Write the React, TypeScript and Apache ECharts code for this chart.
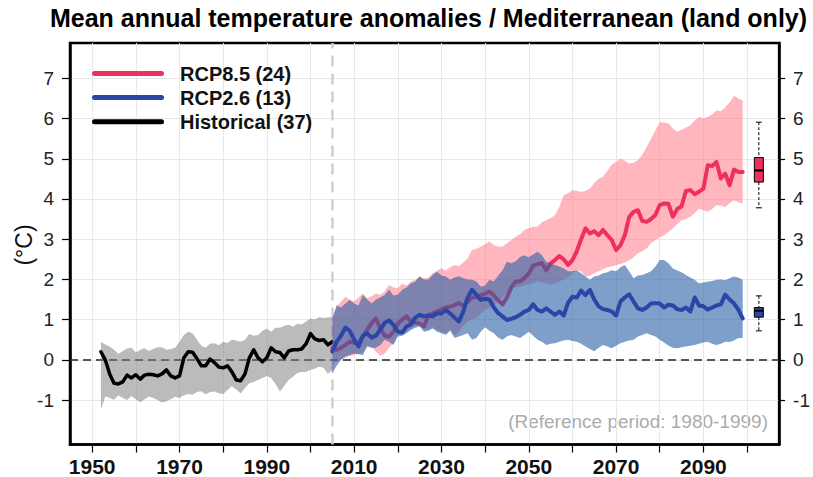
import React, { useEffect, useRef } from "react";
import * as echarts from "echarts";

const TITLE = "Mean annual temperature anomalies / Mediterranean (land only)";
const Y_NAME = "(°C)";
const NOTE = "(Reference period: 1980-1999)";

const HIST_START = 1952;
const RCP_START = 2005;
const REF_LINE_YEAR = 2005;

// Historical multi-model mean and range (1952-2005)
const histMean = [
  0.2, 0.0, -0.35, -0.58, -0.6, -0.55, -0.38, -0.45, -0.37, -0.48,
  -0.38, -0.36, -0.37, -0.4, -0.35, -0.25, -0.4, -0.45, -0.4, 0.05,
  0.2, 0.19, 0.03, -0.15, -0.15, 0.02, -0.07, -0.18, -0.2, -0.15,
  -0.3, -0.5, -0.52, -0.35, 0.05, 0.25, 0.05, -0.05, 0.05, 0.3,
  0.2, 0.18, 0.05, 0.22, 0.25, 0.25, 0.27, 0.4, 0.65, 0.52,
  0.48, 0.5, 0.37, 0.45,
];
const histHi = [
  0.45, 0.38, 0.33, 0.25, 0.15, 0.22, 0.28, 0.3, 0.18, 0.25,
  0.29, 0.22, 0.27, 0.31, 0.31, 0.25, 0.27, 0.3, 0.45, 0.62,
  0.7, 0.66, 0.5, 0.35, 0.3, 0.4, 0.41, 0.36, 0.45, 0.42,
  0.5, 0.48, 0.45, 0.5, 0.64, 0.6, 0.62, 0.72, 0.78, 0.7,
  0.8, 0.8, 0.85, 0.87, 0.82, 0.9, 0.88, 0.95, 1.03, 1.0,
  1.06, 1.04, 1.06, 1.06,
];
const histLo = [
  -1.24, -0.91, -0.95, -0.99, -0.88, -0.95, -1.0, -0.9, -0.98, -1.06,
  -0.98, -0.92, -0.95, -1.0, -1.06, -1.03, -0.98, -0.92, -0.95, -0.88,
  -0.85, -0.87, -0.8, -0.78, -0.86, -0.8, -0.79, -0.83, -0.85, -0.75,
  -0.66, -0.74, -0.84, -0.7, -0.58, -0.55, -0.5, -0.45, -0.4, -0.45,
  -0.6, -0.79, -0.65, -0.5, -0.42, -0.33, -0.3, -0.3, -0.25, -0.22,
  -0.17, -0.2, -0.35, -0.25,
];

// RCP8.5 (2005-2099)
const rcp85Mean = [
  0.29, 0.25, 0.3, 0.37, 0.45, 0.42, 0.42, 0.58, 0.75, 0.91,
  1.03, 0.78, 0.6, 0.58, 0.7, 0.9, 1.0, 1.08, 0.95, 0.93,
  0.9, 0.83, 1.1, 1.16, 1.2, 1.25, 1.3, 1.32, 1.36, 1.41,
  1.34, 1.45, 1.55, 1.56, 1.6, 1.64, 1.7, 1.6, 1.48, 1.38,
  1.55, 1.8, 1.95, 1.95, 2.03, 2.15, 2.34, 2.38, 2.4, 2.23,
  2.4, 2.48, 2.58, 2.5, 2.36, 2.48, 2.7, 3.0, 3.27, 3.14,
  3.2, 3.1, 3.23, 3.1, 2.98, 2.73, 2.85, 3.1, 3.55, 3.68,
  3.72, 3.45, 3.43, 3.5, 3.6, 3.85, 3.89, 3.88, 3.56, 3.75,
  3.82, 4.2, 4.22, 4.12, 4.18, 4.26, 4.84, 4.82, 4.92, 4.51,
  4.63, 4.34, 4.73, 4.67, 4.67,
];
const rcp85Hi = [
  1.0, 1.32, 1.45, 1.57, 1.5, 1.45, 1.55, 1.65, 1.53, 1.58,
  1.65, 1.62, 1.7, 1.86, 1.8, 1.78, 1.9, 1.85, 1.95, 1.99,
  2.07, 2.02, 2.05, 2.15, 2.22, 2.28, 2.22, 2.3, 2.36, 2.33,
  2.42, 2.52, 2.73, 2.76, 2.81, 2.88, 2.94, 2.85, 2.81, 2.82,
  2.9, 2.98, 3.06, 3.12, 3.23, 3.28, 3.31, 3.31, 3.42, 3.47,
  3.52, 3.6, 3.8, 4.09, 4.14, 4.22, 4.2, 4.18, 4.2, 4.26,
  4.4, 4.5, 4.55, 4.7, 4.85, 4.92, 5.0, 4.95, 4.88, 4.9,
  4.96, 5.1, 5.29, 5.5, 5.7, 5.91, 5.9, 5.88, 5.75, 5.67,
  5.72, 5.78, 5.83, 5.95, 6.04, 6.0, 6.04, 6.1, 6.2, 6.18,
  6.28, 6.4, 6.57, 6.5, 6.45,
];
const rcp85Lo = [
  -0.1, -0.05, 0.0, 0.05, 0.1, 0.12, 0.15, 0.18, 0.35, 0.32,
  0.2, 0.1, 0.15, 0.3, 0.42, 0.62, 0.65, 0.7, 0.78, 0.84,
  0.87, 0.75, 0.76, 0.82, 0.74, 0.7, 0.66, 0.76, 0.6, 0.7,
  0.85, 0.95, 1.0, 1.05, 1.15, 1.25, 1.3, 1.35, 1.45, 1.55,
  1.65, 1.78, 1.8, 1.82, 1.85, 1.88, 1.9, 1.95, 1.92, 1.9,
  1.88, 1.9, 1.95, 2.0, 2.06, 2.15, 2.23, 2.2, 2.07, 2.1,
  2.15, 2.2, 2.25, 2.3, 2.32, 2.35, 2.38, 2.42, 2.48, 2.55,
  2.65, 2.7, 2.77, 2.9, 2.98, 3.05, 3.1, 3.18, 3.27, 3.38,
  3.47, 3.5, 3.56, 3.65, 3.76, 3.72, 3.68, 3.75, 3.85, 3.83,
  3.8, 3.9, 3.97, 3.92, 3.89,
];

// RCP2.6 (2005-2099)
const rcp26Mean = [
  0.21, 0.45, 0.6, 0.8, 0.72, 0.5, 0.33, 0.6, 0.66, 0.55,
  0.6, 0.75, 0.92, 0.98, 0.87, 0.7, 0.68, 0.83, 0.88, 1.05,
  1.12, 1.08, 1.1, 1.08, 1.16, 1.15, 1.24, 1.15, 1.05, 0.95,
  1.2, 1.55, 1.74, 1.62, 1.49, 1.52, 1.5, 1.3, 1.16, 1.08,
  0.99, 1.02, 1.06, 1.12, 1.2, 1.24, 1.38, 1.24, 1.2, 1.28,
  1.2, 1.12, 1.2, 1.1, 1.42, 1.57, 1.55, 1.72, 1.61, 1.74,
  1.5, 1.33, 1.26, 1.24, 1.2, 1.1, 1.45, 1.55, 1.63, 1.45,
  1.28, 1.24, 1.3, 1.4, 1.41, 1.4, 1.3, 1.37, 1.35, 1.26,
  1.24, 1.3, 1.2, 1.55, 1.35, 1.33, 1.25, 1.3, 1.35, 1.38,
  1.62, 1.5, 1.4, 1.25, 1.03,
];
const rcp26Hi = [
  1.03, 1.36, 1.3, 1.4, 1.49, 1.4, 1.35, 1.61, 1.5, 1.4,
  1.5, 1.55, 1.61, 1.74, 1.6, 1.62, 1.74, 1.8, 1.9, 1.95,
  2.07, 2.0, 1.99, 2.11, 2.19, 2.1, 2.07, 1.99, 2.05, 2.08,
  2.03, 2.0, 1.99, 1.95, 1.82, 1.85, 1.99, 1.95, 2.1, 2.23,
  2.44, 2.4, 2.45, 2.56, 2.6, 2.55, 2.62, 2.69, 2.6, 2.44,
  2.4, 2.36, 2.32, 2.27, 2.2, 2.2, 2.23, 2.15, 2.07, 1.99,
  2.07, 2.1, 2.15, 2.18, 2.23, 2.2, 2.3, 2.36, 2.2, 2.03,
  2.1, 2.11, 2.15, 2.2, 2.32, 2.48, 2.48, 2.4, 2.27, 2.22,
  2.18, 2.11, 2.05, 1.99, 1.9, 1.92, 1.94, 1.96, 1.99, 2.0,
  1.98, 2.03, 2.07, 2.05, 1.99,
];
const rcp26Lo = [
  -0.33, -0.15, 0.0, 0.08, 0.12, 0.16, 0.14, 0.12, 0.33, 0.3,
  0.3, 0.37, 0.5, 0.45, 0.37, 0.58, 0.6, 0.66, 0.74, 0.8,
  0.83, 0.7, 0.72, 0.78, 0.7, 0.66, 0.62, 0.72, 0.54, 0.58,
  0.62, 0.66, 0.5, 0.54, 0.7, 0.81, 0.72, 0.66, 0.55, 0.5,
  0.58, 0.62, 0.58, 0.54, 0.62, 0.7, 0.6, 0.5, 0.45, 0.37,
  0.4, 0.41, 0.45, 0.48, 0.5, 0.47, 0.45, 0.4, 0.33, 0.27,
  0.21, 0.3, 0.37, 0.33, 0.29, 0.35, 0.41, 0.45, 0.48, 0.5,
  0.58, 0.62, 0.66, 0.62, 0.58, 0.5, 0.43, 0.35, 0.3, 0.29,
  0.31, 0.33, 0.35, 0.37, 0.4, 0.43, 0.45, 0.4, 0.37, 0.4,
  0.45, 0.44, 0.48, 0.54, 0.54,
];

// End-of-century box plots: [min, q1, median, q3, max]
const BOX_YEAR = 2102.7;
const rcp85Box = [3.78, 4.42, 4.71, 5.03, 5.91];
const rcp26Box = [0.72, 1.06, 1.22, 1.3, 1.59];

const xTicks = [1950, 1960, 1970, 1980, 1990, 2000, 2010, 2020, 2030, 2040, 2050, 2060, 2070, 2080, 2090, 2100];
const xLabels = [1950, 1970, 1990, 2010, 2030, 2050, 2070, 2090];
const yTicks = [-1, 0, 1, 2, 3, 4, 5, 6, 7];

const NAME85 = "RCP8.5 (24)";
const NAME26 = "RCP2.6 (13)";
const NAMEH = "Historical (37)";
const legendNames = [NAME85, NAME26, NAMEH];

const C85 = "#ee3060";
const C26 = "#2a46a6";
const CH = "#000000";
const FONT = "'Liberation Sans', Arial, sans-serif";
const CAPSULE = "path://M2.5,0 L69.5,0 A2.5,2.5 0 0 1 69.5,5 L2.5,5 A2.5,2.5 0 0 1 2.5,0 Z";

function years(start: number, n: number) {
  return Array.from({ length: n }, (_, i) => start + i);
}

function band(name: string, yrs: number[], lo: number[], hi: number[], fill: string, z: number) {
  return {
    name,
    type: "custom",
    z,
    silent: true,
    data: yrs.map((y, i) => [y, lo[i], hi[i]]),
    encode: { x: 0, y: [1, 2] },
    renderItem: (params: any, api: any) => {
      if (params.dataIndex !== 0) return null;
      const top = yrs.map((y, i) => api.coord([y, hi[i]]));
      const bot = yrs.map((y, i) => api.coord([y, lo[i]])).reverse();
      return {
        type: "polygon",
        shape: { points: top.concat(bot) },
        style: { fill, stroke: "none" },
      };
    },
  };
}

function meanLine(name: string, yrs: number[], vals: number[], color: string, width: number, z: number, extra: any = {}) {
  return {
    name,
    type: "line",
    z,
    silent: true,
    color,
    symbol: "none",
    showSymbol: false,
    data: yrs.map((y, i) => [y, vals[i]]),
    itemStyle: { color },
    lineStyle: { color, width, join: "round", cap: "round" },
    ...extra,
  };
}

export default function App() {
  const ref = useRef<HTMLDivElement>(null);

  useEffect(() => {
    if (!ref.current) return;
    const chart = echarts.init(ref.current, null, { renderer: "svg" });
    const hy = years(HIST_START, histMean.length);
    const ry = years(RCP_START, rcp85Mean.length);
    const boxColors = [C85, C26];

    const yCommon = {
      type: "value",
      min: -2.106,
      max: 7.879,
      minInterval: 1,
      maxInterval: 1,
      splitNumber: 10,
    };

    const option: any = {
      animation: false,
      grid: {
        left: 70,
        right: 30.3,
        top: 43,
        bottom: 32.5,
        show: true,
        borderColor: "#000",
        borderWidth: 2.5,
        backgroundColor: "transparent",
      },
      legend: {
        data: legendNames,
        orient: "vertical",
        left: 92,
        top: 63.5,
        padding: 0,
        itemWidth: 72,
        itemHeight: 5,
        itemGap: 4.1,
        icon: CAPSULE,
        selectedMode: false,
        textStyle: {
          fontSize: 20,
          fontWeight: "bold",
          fontFamily: FONT,
          color: "#111",
          padding: [0, 0, 0, 11],
        },
      },
      xAxis: {
        type: "value",
        min: 1944.92,
        max: 2107.34,
        minInterval: 10,
        maxInterval: 10,
        splitNumber: 16,
        axisLine: { show: true, onZero: false, lineStyle: { color: "#000", width: 2.5 } },
        axisTick: { show: true, length: 8, customValues: xTicks, lineStyle: { color: "#000", width: 1.2 } },
        axisLabel: {
          customValues: xLabels,
          formatter: (v: number) => String(v),
          fontSize: 21,
          fontWeight: "bold",
          fontFamily: FONT,
          color: "#111",
          margin: 11,
        },
        splitLine: { show: true, lineStyle: { color: "#e8e8e8", width: 1 } },
      },
      yAxis: [
        {
          ...yCommon,
          position: "left",
          axisLine: { show: true, onZero: false, lineStyle: { color: "#000", width: 2.5 } },
          axisTick: { show: true, length: 8, customValues: yTicks, lineStyle: { color: "#000", width: 1.2 } },
          axisLabel: {
            customValues: yTicks,
            formatter: (v: number) => String(v),
            fontSize: 19,
            fontFamily: FONT,
            color: "#222",
            margin: 16,
          },
          splitLine: { show: true, lineStyle: { color: "#e8e8e8", width: 1 } },
        },
        {
          ...yCommon,
          position: "right",
          axisLine: { show: true, onZero: false, lineStyle: { color: "#000", width: 2.5 } },
          axisTick: { show: true, length: 6, customValues: yTicks, lineStyle: { color: "#000", width: 1.2 } },
          axisLabel: {
            customValues: yTicks,
            formatter: (v: number) => String(v),
            fontSize: 19,
            fontFamily: FONT,
            color: "#222",
            margin: 14,
          },
          splitLine: { show: false },
        },
      ],
      series: [
        band("Historical range", hy, histLo, histHi, "rgba(125,125,125,0.52)", 2),
        meanLine(NAMEH, hy, histMean, CH, 3.5, 3, {
          markLine: {
            silent: true,
            z: 1,
            symbol: "none",
            label: { show: false },
            data: [
              { yAxis: 0, lineStyle: { color: "#222", width: 1.6, type: [8, 5] } },
              { xAxis: REF_LINE_YEAR, lineStyle: { color: "#cfcfcf", width: 2.5, type: [11, 7] } },
            ],
          },
        }),
        band("RCP8.5 range", ry, rcp85Lo, rcp85Hi, "rgba(255,110,125,0.5)", 4),
        meanLine(NAME85, ry, rcp85Mean, C85, 4, 5),
        band("RCP2.6 range", ry, rcp26Lo, rcp26Hi, "rgba(40,95,165,0.6)", 6),
        meanLine(NAME26, ry, rcp26Mean, C26, 4, 7),
        {
          name: "boxes",
          type: "custom",
          z: 8,
          silent: true,
          data: [
            [BOX_YEAR, ...rcp85Box],
            [BOX_YEAR, ...rcp26Box],
          ],
          encode: { x: 0, y: [1, 2, 3, 4, 5] },
          renderItem: (params: any, api: any) => {
            const x = api.value(0);
            const p = [1, 2, 3, 4, 5].map((d) => api.coord([x, api.value(d)]));
            const cx = p[0][0];
            const w = 4.5;
            const cap = 3;
            const dash = { stroke: "#000", lineWidth: 1, lineDash: [3, 2] };
            const solid = { stroke: "#000", lineWidth: 1 };
            return {
              type: "group",
              children: [
                { type: "line", shape: { x1: cx, y1: p[4][1], x2: cx, y2: p[3][1] }, style: dash },
                { type: "line", shape: { x1: cx, y1: p[1][1], x2: cx, y2: p[0][1] }, style: dash },
                { type: "line", shape: { x1: cx - cap, y1: p[4][1], x2: cx + cap, y2: p[4][1] }, style: solid },
                { type: "line", shape: { x1: cx - cap, y1: p[0][1], x2: cx + cap, y2: p[0][1] }, style: solid },
                {
                  type: "rect",
                  shape: { x: cx - w, y: p[3][1], width: 2 * w, height: p[1][1] - p[3][1] },
                  style: { fill: boxColors[params.dataIndex], stroke: "#000", lineWidth: 1 },
                },
                { type: "line", shape: { x1: cx - w, y1: p[2][1], x2: cx + w, y2: p[2][1] }, style: { stroke: "#000", lineWidth: 2 } },
              ],
            };
          },
        },
      ],
      graphic: [
        {
          type: "text",
          x: 428.5,
          y: 18,
          style: {
            text: TITLE,
            fontSize: 25,
            fontWeight: "bold",
            fontFamily: FONT,
            fill: "#000",
            align: "center",
            verticalAlign: "middle",
          },
        },
        {
          type: "text",
          x: 24,
          y: 245,
          rotation: Math.PI / 2,
          style: {
            text: Y_NAME,
            fontSize: 23,
            fontFamily: FONT,
            fill: "#111",
            align: "center",
            verticalAlign: "middle",
          },
        },
        {
          type: "text",
          x: 768,
          y: 421.5,
          style: {
            text: NOTE,
            fontSize: 19,
            fontFamily: FONT,
            fill: "#ababab",
            align: "right",
            verticalAlign: "middle",
          },
        },
      ],
    };

    chart.setOption(option);
    return () => chart.dispose();
  }, []);

  return (
    <div
      ref={ref}
      style={{ position: "fixed", left: 0, top: 0, width: 813, height: 477, background: "#fff" }}
    />
  );
}
